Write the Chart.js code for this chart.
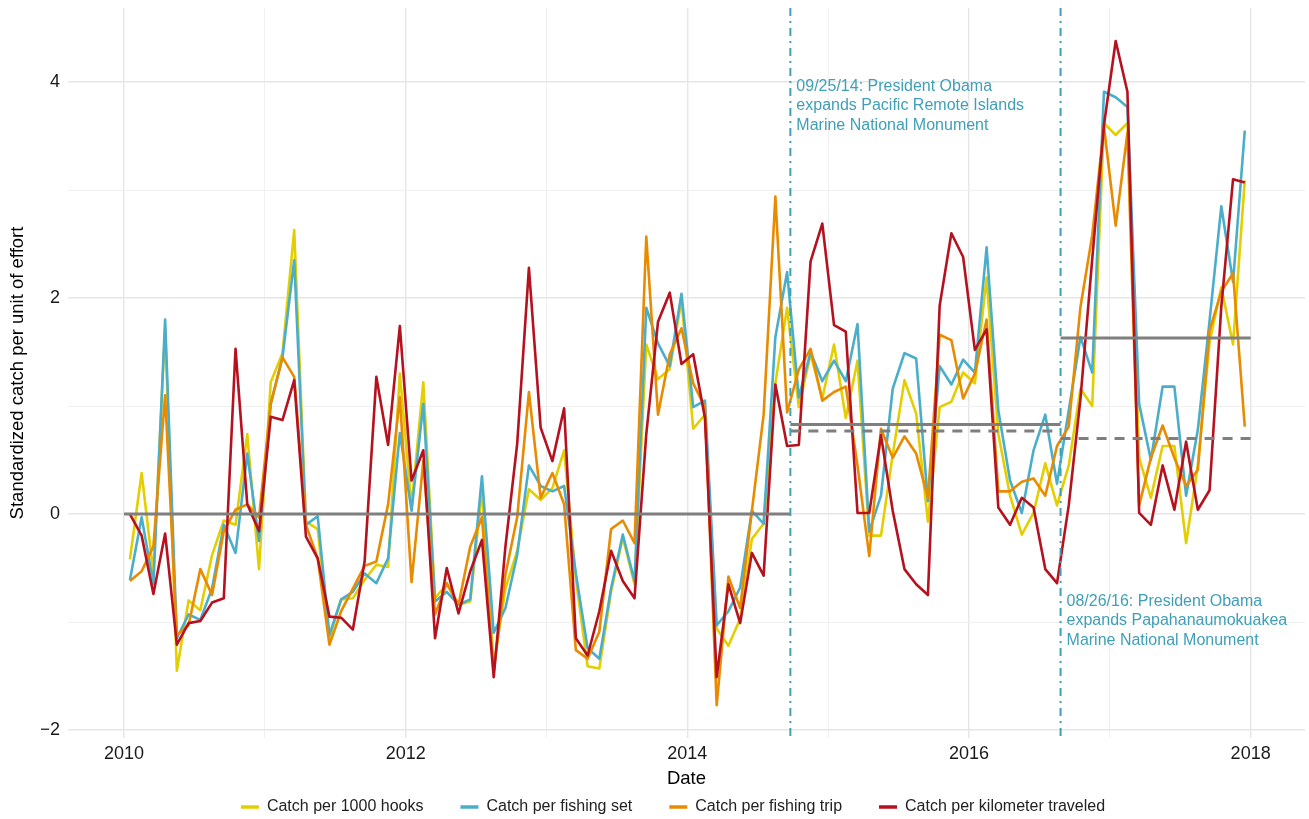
<!DOCTYPE html>
<html>
<head>
<meta charset="utf-8">
<title>Standardized catch per unit of effort</title>
<script src="https://cdn.jsdelivr.net/npm/chart.js@4.4.1/dist/chart.umd.min.js"></script>
<style>
  html, body { margin: 0; padding: 0; background: #fff; }
  #chart { display: block; }
</style>
</head>
<body>
<canvas id="chart" width="1309" height="819"></canvas>
<script>
// monthly values, Jan 2010 .. Dec 2017 (one row per year)
const startYear = 2010;

const hooks = [
  -0.42, 0.38, -0.55, 1.72, -1.45, -0.80, -0.89, -0.38, -0.06, -0.10, 0.74, -0.51,
  1.22, 1.49, 2.63, -0.07, -0.14, -1.15, -0.79, -0.78, -0.61, -0.47, -0.49, 1.30,
  0.07, 1.22, -0.78, -0.65, -0.84, -0.81, 0.22, -1.40, -0.69, -0.34, 0.23, 0.13,
  0.24, 0.59, -0.60, -1.41, -1.43, -0.72, -0.22, -0.65, 1.57, 1.25, 1.34, 1.98,
  0.79, 0.92, -1.06, -1.22, -0.97, -0.23, -0.09, 1.21, 1.91, 0.99, 1.48, 1.07,
  1.57, 0.89, 1.42, -0.20, -0.20, 0.55, 1.24, 0.93, -0.07, 0.99, 1.04, 1.31,
  1.21, 2.19, 0.74, 0.17, -0.19, 0.01, 0.47, 0.08, 0.45, 1.16, 1.00, 3.62,
  3.51, 3.62, 0.52, 0.15, 0.63, 0.63, -0.27, 0.45, 1.59, 2.10, 1.57, 3.09
];
const sets = [
  -0.61, -0.03, -0.65, 1.80, -1.15, -0.93, -0.98, -0.69, -0.10, -0.36, 0.56, -0.25,
  1.02, 1.45, 2.35, -0.10, -0.02, -1.12, -0.79, -0.72, -0.55, -0.64, -0.41, 0.75,
  0.03, 1.02, -0.81, -0.72, -0.84, -0.79, 0.35, -1.10, -0.87, -0.38, 0.45, 0.26,
  0.21, 0.26, -0.55, -1.24, -1.34, -0.69, -0.19, -0.62, 1.91, 1.58, 1.37, 2.04,
  0.99, 1.05, -1.03, -0.90, -0.68, 0.03, -0.09, 1.64, 2.24, 1.08, 1.50, 1.23,
  1.42, 1.23, 1.76, -0.16, 0.17, 1.16, 1.49, 1.44, 0.12, 1.37, 1.20, 1.43,
  1.31, 2.47, 0.96, 0.31, 0.01, 0.59, 0.92, 0.28, 0.96, 1.64, 1.31, 3.91,
  3.86, 3.77, 1.02, 0.50, 1.18, 1.18, 0.17, 0.78, 1.79, 2.85, 2.15, 3.55
];
const trips = [
  -0.62, -0.53, -0.30, 1.10, -1.12, -1.03, -0.51, -0.75, -0.16, 0.04, 0.09, -0.03,
  1.02, 1.45, 1.27, -0.10, -0.41, -1.21, -0.90, -0.69, -0.48, -0.44, 0.09, 1.08,
  -0.63, 0.49, -0.93, -0.64, -0.84, -0.30, -0.03, -1.46, -0.56, -0.03, 1.13, 0.15,
  0.38, 0.09, -1.26, -1.34, -1.09, -0.14, -0.06, -0.27, 2.57, 0.92, 1.48, 1.72,
  1.21, 0.99, -1.77, -0.58, -0.87, 0.03, 0.92, 2.94, 0.94, 1.34, 1.53, 1.05,
  1.13, 1.18, 0.45, -0.39, 0.79, 0.52, 0.72, 0.56, 0.15, 1.66, 1.61, 1.07,
  1.30, 1.80, 0.21, 0.21, 0.30, 0.33, 0.17, 0.63, 0.81, 1.92, 2.58, 3.59,
  2.67, 3.53, 0.08, 0.52, 0.82, 0.52, 0.26, 0.41, 1.70, 2.06, 2.23, 0.81
];
const km = [
  0.00, -0.20, -0.74, -0.18, -1.21, -1.01, -0.99, -0.82, -0.78, 1.53, 0.09, -0.16,
  0.90, 0.87, 1.24, -0.21, -0.41, -0.95, -0.96, -1.07, -0.44, 1.27, 0.64, 1.74,
  0.31, 0.59, -1.15, -0.50, -0.92, -0.53, -0.24, -1.51, -0.30, 0.65, 2.28, 0.80,
  0.49, 0.98, -1.15, -1.31, -0.90, -0.34, -0.62, -0.78, 0.74, 1.78, 2.05, 1.39,
  1.48, 0.89, -1.51, -0.65, -1.01, -0.36, -0.57, 1.20, 0.63, 0.64, 2.34, 2.69,
  1.75, 1.69, 0.01, 0.01, 0.73, 0.03, -0.51, -0.65, -0.75, 1.93, 2.60, 2.38,
  1.52, 1.71, 0.06, -0.10, 0.15, 0.06, -0.51, -0.64, 0.08, 1.07, 2.36, 3.60,
  4.38, 3.91, 0.01, -0.10, 0.45, 0.04, 0.67, 0.04, 0.22, 1.92, 3.10, 3.07
];

const seriesNames = ['Catch per 1000 hooks', 'Catch per fishing set', 'Catch per fishing trip', 'Catch per kilometer traveled'];
const seriesColors = ['#E3CF00', '#4AAECB', '#E88B00', '#B5111E'];

// period means (solid) and second estimate (dashed), split at the two monument dates
const eventDates = ['2014-09-25', '2016-08-26'];
const eventLabels = [
  ['09/25/14: President Obama', 'expands Pacific Remote Islands', 'Marine National Monument'],
  ['08/26/16: President Obama', 'expands Papahanaumokuakea', 'Marine National Monument']
];
const eventLabelY = [3.96, -0.81];
const periodMeans = [0, 0.83, 1.63];
const periodMeansDashed = [null, 0.77, 0.70];

const xTicks = [2010, 2011, 2012, 2013, 2014, 2015, 2016, 2017, 2018];
const yTicks = [-2, -1, 0, 1, 2, 3, 4];

const FONT = '"Liberation Sans", Arial, Helvetica, sans-serif';
const eventColor = '#3F9FB6';
const refGray = '#7F7F7F';

function decimalYear(s) {
  const d = new Date(s + 'T00:00:00Z');
  const y = d.getUTCFullYear();
  return y + (d - Date.UTC(y, 0, 1)) / (Date.UTC(y + 1, 0, 1) - Date.UTC(y, 0, 1));
}
const eventX = eventDates.map(decimalYear);
const bounds = [startYear, eventX[0], eventX[1], startYear + 8];

const monthX = hooks.map((_, i) => startYear + (i + 0.5) / 12);
function toPoints(vals) {
  return vals.map((v, i) => ({ x: monthX[i], y: v }));
}

const datasets = [hooks, sets, trips, km].map((vals, k) => ({
  label: seriesNames[k],
  data: toPoints(vals),
  borderColor: seriesColors[k],
  backgroundColor: seriesColors[k],
  borderWidth: 2.6,
  borderJoinStyle: 'round',
  pointRadius: 0,
  tension: 0,
  order: 4 - k
}));

periodMeans.forEach((m, p) => {
  datasets.push({
    label: 'mean' + p,
    data: [{ x: bounds[p], y: m }, { x: bounds[p + 1], y: m }],
    borderColor: refGray, borderWidth: 3, pointRadius: 0, order: 0
  });
  if (periodMeansDashed[p] !== null) {
    datasets.push({
      label: 'meanDashed' + p,
      data: [{ x: bounds[p], y: periodMeansDashed[p] }, { x: bounds[p + 1], y: periodMeansDashed[p] }],
      borderColor: refGray, borderWidth: 3, borderDash: [10, 8], pointRadius: 0, order: 0
    });
  }
});

const eventPlugin = {
  id: 'events',
  afterDatasetsDraw(chart) {
    const { ctx, chartArea, scales: { x, y } } = chart;
    ctx.save();
    eventX.forEach((ex, k) => {
      const px = x.getPixelForValue(ex);
      ctx.strokeStyle = eventColor;
      ctx.lineWidth = 2;
      ctx.setLineDash([8, 5, 2, 5]);
      ctx.beginPath();
      ctx.moveTo(px, chartArea.top);
      ctx.lineTo(px, chartArea.bottom);
      ctx.stroke();
      ctx.setLineDash([]);
      ctx.fillStyle = eventColor;
      ctx.font = '16px ' + FONT;
      ctx.textAlign = 'left';
      ctx.textBaseline = 'middle';
      const py = y.getPixelForValue(eventLabelY[k]);
      eventLabels[k].forEach((line, j) => ctx.fillText(line, px + 6, py + j * 19.5));
    });
    ctx.restore();
  }
};

const gridColor = ctx => (ctx.tick && ctx.tick.value % 2 === 0) ? '#E6E6E6' : '#F0F0F0';
const gridWidth = ctx => (ctx.tick && ctx.tick.value % 2 === 0) ? 1.4 : 1;

new Chart(document.getElementById('chart'), {
  type: 'line',
  data: { datasets: datasets },
  plugins: [eventPlugin],
  options: {
    responsive: false,
    animation: false,
    devicePixelRatio: 1,
    layout: { padding: { left: 41, right: 4, top: 8, bottom: -6 } },
    plugins: {
      tooltip: { enabled: false },
      legend: {
        position: 'bottom',
        labels: {
          usePointStyle: true,
          pointStyle: 'line',
          pointStyleWidth: 18,
          padding: 37,
          color: '#222',
          font: { family: FONT, size: 16 },
          filter: item => item.datasetIndex < 4,
          sort: (a, b) => a.datasetIndex - b.datasetIndex,
          generateLabels: chart => Chart.defaults.plugins.legend.labels.generateLabels(chart)
            .map(l => Object.assign(l, { lineWidth: 3.5 }))
        }
      }
    },
    scales: {
      x: {
        type: 'linear',
        min: 2009.602,
        max: 2018.386,
        afterBuildTicks: s => { s.ticks = xTicks.map(v => ({ value: v })); },
        afterFit: s => { s.height = 24; },
        ticks: {
          autoSkip: false,
          maxRotation: 0,
          padding: 5,
          color: '#1A1A1A',
          font: { family: FONT, size: 18 },
          callback: v => (v % 2 === 0 ? String(v) : '')
        },
        grid: { drawTicks: false, color: gridColor, lineWidth: gridWidth },
        border: { display: false },
        title: {
          display: true,
          text: 'Date',
          color: '#000',
          font: { family: FONT, size: 18.5 },
          padding: { top: 0, bottom: -28 }
        }
      },
      y: {
        min: -2.074,
        max: 4.686,
        afterBuildTicks: s => { s.ticks = yTicks.map(v => ({ value: v })); },
        afterFit: s => { s.width = 27; },
        ticks: {
          padding: 8,
          color: '#1A1A1A',
          // zero line height keeps the top label from pushing the plot area down
          font: { family: FONT, size: 18, lineHeight: 0 },
          callback: v => (v % 2 === 0 ? String(v).replace('-', '\u2212') : '')
        },
        grid: { drawTicks: false, color: gridColor, lineWidth: gridWidth },
        border: { display: false },
        title: {
          display: true,
          text: 'Standardized catch per unit of effort',
          color: '#000',
          font: { family: FONT, size: 18.5 },
          padding: { top: -34, bottom: 0 }
        }
      }
    }
  }
});
</script>
</body>
</html>
